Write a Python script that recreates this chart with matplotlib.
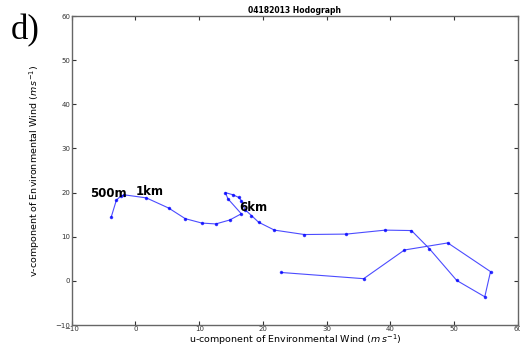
import numpy as np
import matplotlib
matplotlib.use('Agg')
import matplotlib.pyplot as plt

# hodograph wind components (m/s)
u = [-3.8, -3.0, -2.3, -1.8, 1.7, 5.2, 7.8, 10.4, 12.6, 14.8, 16.6,
     14.5, 14.1, 15.3, 16.2, 16.6, 17.2, 18.2, 19.3, 21.8, 26.5, 33.1,
     39.2, 43.3, 46.1, 50.4, 54.8, 55.7, 49.0, 42.2, 35.8, 22.9]
v = [14.5, 18.3, 19.2, 19.5, 18.8, 16.5, 14.1, 13.1, 12.9, 13.8, 15.2,
     18.6, 20.0, 19.5, 18.9, 18.2, 16.1, 14.8, 13.3, 11.5, 10.5, 10.6,
     11.5, 11.4, 7.3, 0.1, -3.6, 2.1, 8.6, 7.0, 0.5, 1.9]

level_names = ['500m', '1km', '6km']
level_u = [-7.1, 0.1, 16.3]
level_v = [19.7, 20.2, 16.6]

fig = plt.figure(figsize=(5.2, 3.48), dpi=100)
ax = fig.add_axes([0.138, 0.066, 0.858, 0.888])

ax.plot(u, v, color='#0000ff', lw=0.8, alpha=0.7, marker='.', ms=3,
        mfc='#0000ff', mec='#0000ff')

for name, x, y in zip(level_names, level_u, level_v):
    ax.text(x, y, name, fontsize=8.5, fontweight='bold', ha='left', va='center')

ax.set_xlim(-10, 60)
ax.set_ylim(-10, 60)
ax.set_xticks(np.arange(-10, 61, 10))
ax.set_yticks(np.arange(-10, 61, 10))
ax.tick_params(direction='in', top=True, right=True, labelsize=5, length=3,
               colors='#333333', labelcolor='#333333', pad=1)
for s in ax.spines.values():
    s.set_color('#666666')
    s.set_linewidth(1.0)

ax.set_xlabel(r'u-component of Environmental Wind ($m\,s^{-1}$)', fontsize=6.8, labelpad=0)
ax.set_ylabel(r'v-component of Environmental Wind ($m\,s^{-1}$)', fontsize=6.8, labelpad=10)
ax.set_title('04182013 Hodograph', fontsize=5.5, fontweight='bold', pad=2)

fig.text(0.02, 0.96, 'd)', fontsize=25, family='Liberation Serif', va='top', ha='left')

fig.savefig('out.png', dpi=100)
